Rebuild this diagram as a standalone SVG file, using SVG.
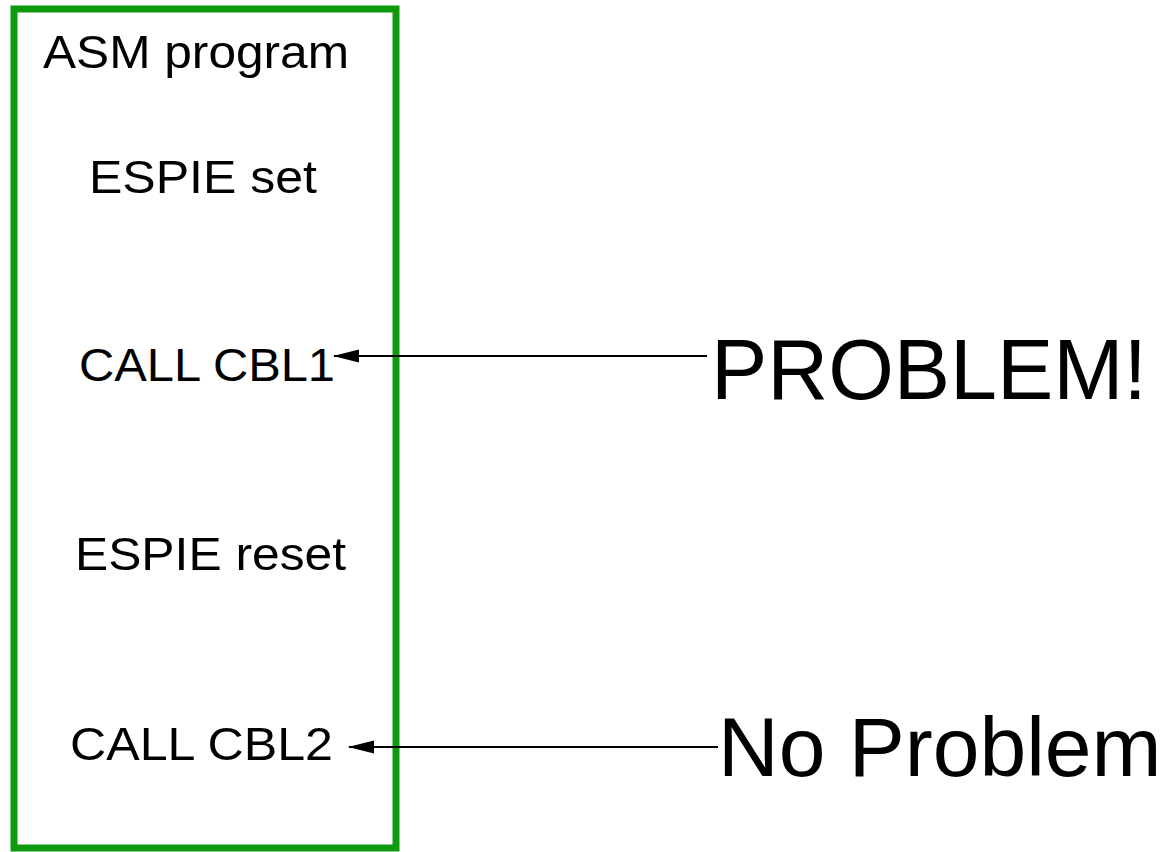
<svg xmlns="http://www.w3.org/2000/svg" width="1169" height="852" viewBox="0 0 1169 852">
<defs>
<style>
.lbl{font-family:"Liberation Sans",Arial,sans-serif;fill:#000;}
.sm{font-size:47px;}
.big{font-size:86px;}
.big2{font-size:84px;}
.conn{stroke:#000;stroke-width:2;fill:none;}
</style>
<marker id="ah" viewBox="0 0 26 14" refX="25" refY="7" markerWidth="26" markerHeight="14" markerUnits="userSpaceOnUse" orient="auto">
<path d="M0,0.5 L26,7 L0,13.5 Z" fill="#000"/>
</marker>
</defs>
<rect width="1169" height="852" fill="#fff"/>
<g id="asm-program">
<rect x="14" y="9" width="382" height="839" fill="#fff" stroke="#0e990e" stroke-width="7"/>
<text class="lbl sm" x="43" y="68" textLength="306" lengthAdjust="spacingAndGlyphs">ASM program</text>
<text class="lbl sm" x="89" y="193" textLength="228" lengthAdjust="spacingAndGlyphs">ESPIE set</text>
<text class="lbl sm" x="79" y="381" textLength="256" lengthAdjust="spacingAndGlyphs">CALL CBL1</text>
<text class="lbl sm" x="75" y="570" textLength="271" lengthAdjust="spacingAndGlyphs">ESPIE reset</text>
<text class="lbl sm" x="70" y="760" textLength="263" lengthAdjust="spacingAndGlyphs">CALL CBL2</text>
</g>
<g id="problem">
<text class="lbl big" x="711" y="399" textLength="436" lengthAdjust="spacingAndGlyphs">PROBLEM!</text>
</g>
<g id="no-problem">
<text class="lbl big2" x="718" y="776">No Problem</text>
</g>
<g id="connectors">
<line class="conn" x1="707" y1="356" x2="334" y2="356" marker-end="url(#ah)"/>
<line class="conn" x1="718" y1="747" x2="349" y2="747" marker-end="url(#ah)"/>
</g>
</svg>
